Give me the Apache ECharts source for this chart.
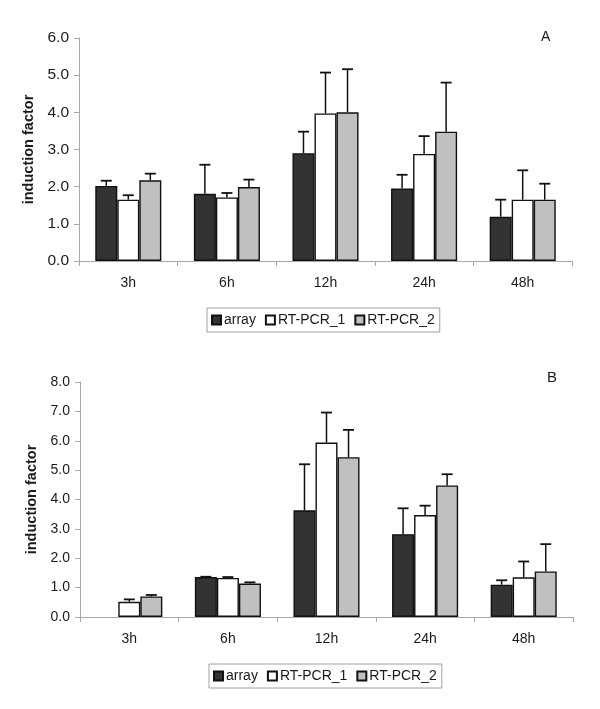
<!DOCTYPE html>
<html><head><meta charset="utf-8">
<script src="https://cdn.jsdelivr.net/npm/echarts@6/dist/echarts.min.js"></script>
<style>html,body{margin:0;padding:0;background:#fff}#c{width:600px;height:709px}</style>
</head><body><div id="c"></div>
<script>
var categories = ['3h', '6h', '12h', '24h', '48h'];
var seriesNames = ['array', 'RT-PCR_1', 'RT-PCR_2'];
// Panel A
var aArray = [2.02, 1.81, 2.90, 1.95, 1.19];
var aArrayErr = [2.16, 2.59, 3.48, 2.32, 1.65];
var aRT1 = [1.65, 1.71, 3.97, 2.88, 1.65];
var aRT1Err = [1.77, 1.83, 5.07, 3.36, 2.44];
var aRT2 = [2.17, 1.99, 4.00, 3.48, 1.65];
var aRT2Err = [2.35, 2.19, 5.16, 4.80, 2.08];
// Panel B
var bArray = [null, 1.36, 3.63, 2.82, 1.10];
var bArrayErr = [null, 1.37, 5.20, 3.70, 1.25];
var bRT1 = [0.52, 1.33, 5.94, 3.47, 1.35];
var bRT1Err = [0.60, 1.36, 6.96, 3.79, 1.89];
var bRT2 = [0.70, 1.14, 5.44, 4.48, 1.55];
var bRT2Err = [0.75, 1.18, 6.37, 4.86, 2.48];

var colors = ['#333333', '#ffffff', '#c0c0c0'];
var font = 'Liberation Sans, Arial, sans-serif';
var txt = '#1a1a1a';

function makeAxes(idx, max, labelSize) {
  return {
    x: {
      type: 'category', gridIndex: idx, data: categories,
      axisLine: {lineStyle: {color: '#a8a8a8', width: 1}},
      axisTick: {show: true, length: 5, lineStyle: {color: '#a8a8a8'}},
      axisLabel: {color: txt, fontSize: 14, fontFamily: font, margin: 15}
    },
    y: {
      type: 'value', gridIndex: idx, min: 0, max: max, interval: 1,
      name: 'induction factor', nameLocation: 'middle', nameGap: 41,
      nameTextStyle: {fontSize: 14.5, fontWeight: 'bold', color: txt, fontFamily: font},
      splitLine: {show: false},
      axisLine: {show: true, lineStyle: {color: '#a8a8a8', width: 1}},
      axisTick: {show: true, length: 5, lineStyle: {color: '#a8a8a8'}},
      axisLabel: {color: txt, fontSize: labelSize, fontFamily: font, margin: 10,
        formatter: function (v) { return v.toFixed(1); }}
    }
  };
}

function barSeries(name, data, k, axisIdx) {
  return {
    type: 'bar', name: name, data: data, xAxisIndex: axisIdx, yAxisIndex: axisIdx,
    barGap: '0%', barCategoryGap: '33%',
    itemStyle: {color: colors[k], borderColor: '#111', borderWidth: 1.4},
    emphasis: {disabled: true}, animation: false
  };
}

function errSeries(vals, errs, k, axisIdx) {
  var d = [];
  for (var i = 0; i < vals.length; i++) {
    if (vals[i] != null && errs[i] != null) d.push([i, vals[i], errs[i]]);
  }
  return {
    type: 'custom', xAxisIndex: axisIdx, yAxisIndex: axisIdx, z: 5, silent: true,
    animation: false, data: d,
    renderItem: function (params, api) {
      var i = api.value(0);
      var base = api.coord([i, api.value(1)]);
      var top = api.coord([i, api.value(2)]);
      var cw = api.size([1, 0])[0];
      var bw = cw * 0.67 / 3;
      var x = base[0] + (k - 1) * bw;
      var cap = 5.5;
      return {
        type: 'group',
        children: [
          {type: 'line', shape: {x1: x, y1: base[1], x2: x, y2: top[1]},
           style: {stroke: '#111', lineWidth: 1.5}},
          {type: 'line', shape: {x1: x - cap, y1: top[1], x2: x + cap, y2: top[1]},
           style: {stroke: '#111', lineWidth: 1.8}}
        ]
      };
    }
  };
}

var axA = makeAxes(0, 6, 15.5), axB = makeAxes(1, 8, 14);
var legendBase = {
  data: seriesNames, orient: 'horizontal', itemWidth: 9, itemHeight: 9, itemGap: 9,
  borderColor: '#a0a0a0', borderWidth: 1, padding: [5, 5, 5, 4],
  textStyle: {fontSize: 14, color: txt, fontFamily: font, padding: [0, 0, 0, -2]},
  icon: 'rect', selectedMode: false
};

var option = {
  animation: false,
  backgroundColor: '#fff',
  grid: [
    {left: 79, right: 28, top: 38, bottom: 448},
    {left: 80, right: 27, top: 382, bottom: 92}
  ],
  xAxis: [axA.x, axB.x],
  yAxis: [axA.y, axB.y],
  legend: [
    Object.assign({}, legendBase, {left: 207, top: 308}),
    Object.assign({}, legendBase, {left: 209, top: 664})
  ],
  graphic: [
    {type: 'text', left: 541, top: 30, style: {text: 'A', font: '14px ' + font, fill: txt}},
    {type: 'text', left: 547, top: 370, style: {text: 'B', font: '15px ' + font, fill: txt}}
  ],
  series: [
    barSeries('array', aArray, 0, 0),
    barSeries('RT-PCR_1', aRT1, 1, 0),
    barSeries('RT-PCR_2', aRT2, 2, 0),
    errSeries(aArray, aArrayErr, 0, 0),
    errSeries(aRT1, aRT1Err, 1, 0),
    errSeries(aRT2, aRT2Err, 2, 0),
    barSeries('array', bArray, 0, 1),
    barSeries('RT-PCR_1', bRT1, 1, 1),
    barSeries('RT-PCR_2', bRT2, 2, 1),
    errSeries(bArray, bArrayErr, 0, 1),
    errSeries(bRT1, bRT1Err, 1, 1),
    errSeries(bRT2, bRT2Err, 2, 1)
  ]
};
var chart = echarts.init(document.getElementById('c'), null, {renderer: 'canvas'});
chart.setOption(option);
</script></body></html>
